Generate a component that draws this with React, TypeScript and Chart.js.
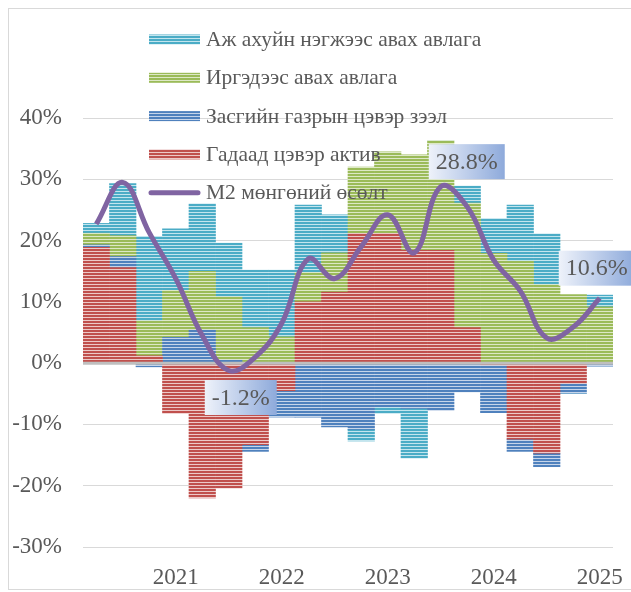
import React, { useEffect, useRef } from "react";
import { Chart, registerables } from "chart.js";

Chart.register(...registerables);

const quarters = [
  "2020Q2", "2020Q3", "2020Q4", "2021Q1", "2021Q2", "2021Q3", "2021Q4", "2022Q1",
  "2022Q2", "2022Q3", "2022Q4", "2023Q1", "2023Q2", "2023Q3", "2023Q4", "2024Q1",
  "2024Q2", "2024Q3", "2024Q4", "2025Q1",
];

// Гадаад цэвэр актив
const foreignNetAssets = [18.9, 15.6, 1.2, -8.2, -22.0, -20.4, -13.3, -4.5, 10.0, 11.6, 21.2, 21.2, 18.4, 18.4, 5.8, -0.3, -12.4, -14.7, -3.3, 0];
// Засгийн газрын цэвэр зээл
const govNetCredit = [0.4, 1.8, -0.6, 4.2, 5.4, 0.5, -1.1, -4.3, -8.8, -10.4, -10.8, -7.1, -7.4, -7.7, -4.7, -7.8, -2.0, -2.2, -1.6, -0.5];
// Иргэдээс авах авлага
const householdClaims = [1.9, 3.4, 5.7, 7.7, 9.6, 10.3, 5.8, 4.3, 4.8, 6.4, 10.8, 13.3, 15.6, 17.9, 20.3, 17.9, 16.6, 12.8, 11.2, 9.2];
// Аж ахуйн нэгжээс авах авлага
const enterpriseClaims = [1.6, 8.5, 13.8, 10.0, 11.0, 8.8, 9.4, 10.9, 11.0, 6.2, -1.9, -1.1, -8.1, 0, 2.8, 5.7, 9.2, 8.3, 0, 1.9];
// М2 мөнгөний өсөлт
const m2Growth = [22.7, 29.5, 21.3, 13.8, 4.5, -1.2, 1.0, 6.5, 17.0, 13.8, 19.0, 24.2, 18.0, 28.8, 25.5, 16.8, 11.8, 4.1, 5.9, 10.6];

const seriesNames = [
  "Гадаад цэвэр актив",
  "Засгийн газрын цэвэр зээл",
  "Иргэдээс авах авлага",
  "Аж ахуйн нэгжээс авах авлага",
  "М2 мөнгөний өсөлт",
];

const labeledIndices = [5, 13, 19];

// styles
const barColors = ["#C0504D", "#4F81BD", "#9BBB59", "#4BACC6"];
const barLight = ["#ecc9c8", "#c6d5ea", "#dde8c6", "#c3e5ee"];
const lineColor = "#8064A2";
const textColor = "#595959";
const fontFamily = "'Liberation Serif', 'Times New Roman', serif";
const labelOffsets: Record<number, [number, number]> = { 5: [12, 27], 13: [26, -25], 19: [-3, -30] };

function makeStripe(ctx: CanvasRenderingContext2D, color: string, light: string) {
  const c = document.createElement("canvas");
  c.width = 4;
  c.height = 3;
  const g = c.getContext("2d")!;
  g.fillStyle = light;
  g.fillRect(0, 0, 4, 3);
  g.fillStyle = color;
  g.fillRect(0, 0, 4, 2);
  return ctx.createPattern(c, "repeat")!;
}

const zeroLinePlugin = {
  id: "zeroLine",
  beforeDatasetDraw(chart: any, args: any) {
    if (args.index !== 4) return;
    const { ctx, chartArea } = chart;
    const y = chart.scales.y.getPixelForValue(0);
    ctx.save();
    ctx.strokeStyle = "#bfbfbf";
    ctx.lineWidth = 3;
    ctx.beginPath();
    ctx.moveTo(chartArea.left, y);
    ctx.lineTo(chartArea.right, y);
    ctx.stroke();
    ctx.restore();
  },
};

const valueBoxPlugin = {
  id: "valueBoxes",
  afterDatasetsDraw(chart: any) {
    const meta = chart.getDatasetMeta(4);
    const ctx: CanvasRenderingContext2D = chart.ctx;
    labeledIndices.forEach((i) => {
      const pt = meta.data[i];
      const [dx, dy] = labelOffsets[i];
      const text = m2Growth[i].toFixed(1) + "%";
      ctx.save();
      ctx.font = `24px ${fontFamily}`;
      const w = ctx.measureText(text).width + 14;
      const h = 35;
      const cx = pt.x + dx;
      const cy = pt.y + dy;
      const g = ctx.createLinearGradient(cx - w / 2, 0, cx + w / 2, 0);
      g.addColorStop(0, "#eef2fa");
      g.addColorStop(1, "#8eaadb");
      ctx.fillStyle = g;
      ctx.fillRect(cx - w / 2, cy - h / 2, w, h);
      ctx.fillStyle = textColor;
      ctx.textAlign = "center";
      ctx.textBaseline = "middle";
      ctx.fillText(text, cx, cy + 1);
      ctx.restore();
    });
  },
};

const legendPlugin = {
  id: "sideLegend",
  afterDraw(chart: any) {
    const ctx: CanvasRenderingContext2D = chart.ctx;
    const order = [3, 2, 1, 0, 4];
    order.forEach((di, row) => {
      const ds = chart.data.datasets[di];
      const y = 30.5 + row * 38.3;
      ctx.save();
      if (di === 4) {
        ctx.strokeStyle = lineColor;
        ctx.lineWidth = 5;
        ctx.lineCap = "round";
        ctx.beginPath();
        ctx.moveTo(142, y);
        ctx.lineTo(189, y);
        ctx.stroke();
      } else {
        ctx.fillStyle = ds.backgroundColor;
        ctx.fillRect(140, y - 5, 51, 10);
      }
      ctx.fillStyle = textColor;
      ctx.font = `21.5px ${fontFamily}`;
      ctx.textAlign = "left";
      ctx.textBaseline = "middle";
      ctx.fillText(ds.label, 197, y + 1);
      ctx.restore();
    });
  },
};

export default function App() {
  const ref = useRef<HTMLCanvasElement>(null);

  useEffect(() => {
    const canvas = ref.current!;
    const ctx = canvas.getContext("2d")!;
    const patterns = barColors.map((c, i) => makeStripe(ctx, c, barLight[i]));
    const barData = [foreignNetAssets, govNetCredit, householdClaims, enterpriseClaims];

    const chart = new Chart(ctx, {
      type: "bar",
      data: {
        labels: quarters,
        datasets: [
          ...barData.map((d, i) => ({
            type: "bar" as const,
            label: seriesNames[i],
            data: d,
            backgroundColor: patterns[i],
            borderWidth: 0,
            stack: "bars",
            categoryPercentage: 1,
            barPercentage: 1,
            order: 1,
          })),
          {
            type: "line" as const,
            label: seriesNames[4],
            data: m2Growth,
            borderColor: lineColor,
            backgroundColor: lineColor,
            borderWidth: 5,
            pointRadius: 0,
            tension: 0.4,
            stack: "m2",
            order: 0,
          } as any,
        ],
      },
      options: {
        responsive: false,
        animation: false,
        layout: { padding: { top: 109, right: 18, left: 0, bottom: 0 } },
        plugins: {
          legend: { display: false },
          tooltip: { enabled: false },
        },
        scales: {
          x: {
            stacked: true,
            grid: { display: false },
            border: { display: false },
            ticks: {
              autoSkip: false,
              maxRotation: 0,
              padding: 9,
              color: textColor,
              font: { family: fontFamily, size: 23 },
              callback: (_v: any, i: number) => (quarters[i].endsWith("Q1") ? quarters[i].slice(0, 4) : ""),
            },
            afterFit: (s: any) => {
              s.height = 42;
              s.paddingLeft = 0;
              s.paddingRight = 0;
            },
          },
          y: {
            stacked: true,
            min: -30,
            max: 40,
            ticks: {
              stepSize: 10,
              padding: 21,
              color: textColor,
              font: { family: fontFamily, size: 23 },
              callback: (v: any) => `${v}%`,
            },
            grid: {
              drawTicks: false,
              color: (c: any) => (c.tick && c.tick.value === 0 ? "rgba(0,0,0,0)" : "#d9d9d9"),
              lineWidth: 1,
            },
            border: { display: false },
            afterFit: (s: any) => {
              s.width = 74;
            },
          },
        },
      } as any,
      plugins: [zeroLinePlugin, valueBoxPlugin, legendPlugin],
    });
    return () => chart.destroy();
  }, []);

  return (
    <div style={{ position: "fixed", left: 0, top: 0, width: 631, height: 592, overflow: "hidden", background: "#fff" }}>
      <div style={{ position: "absolute", left: 8, top: 8, width: 660, height: 580, border: "1px solid #d9d9d9" }} />
      <canvas
        ref={ref}
        width={622}
        height={580}
        style={{ position: "absolute", left: 9, top: 9, width: 622, height: 580 }}
      />
    </div>
  );
}
